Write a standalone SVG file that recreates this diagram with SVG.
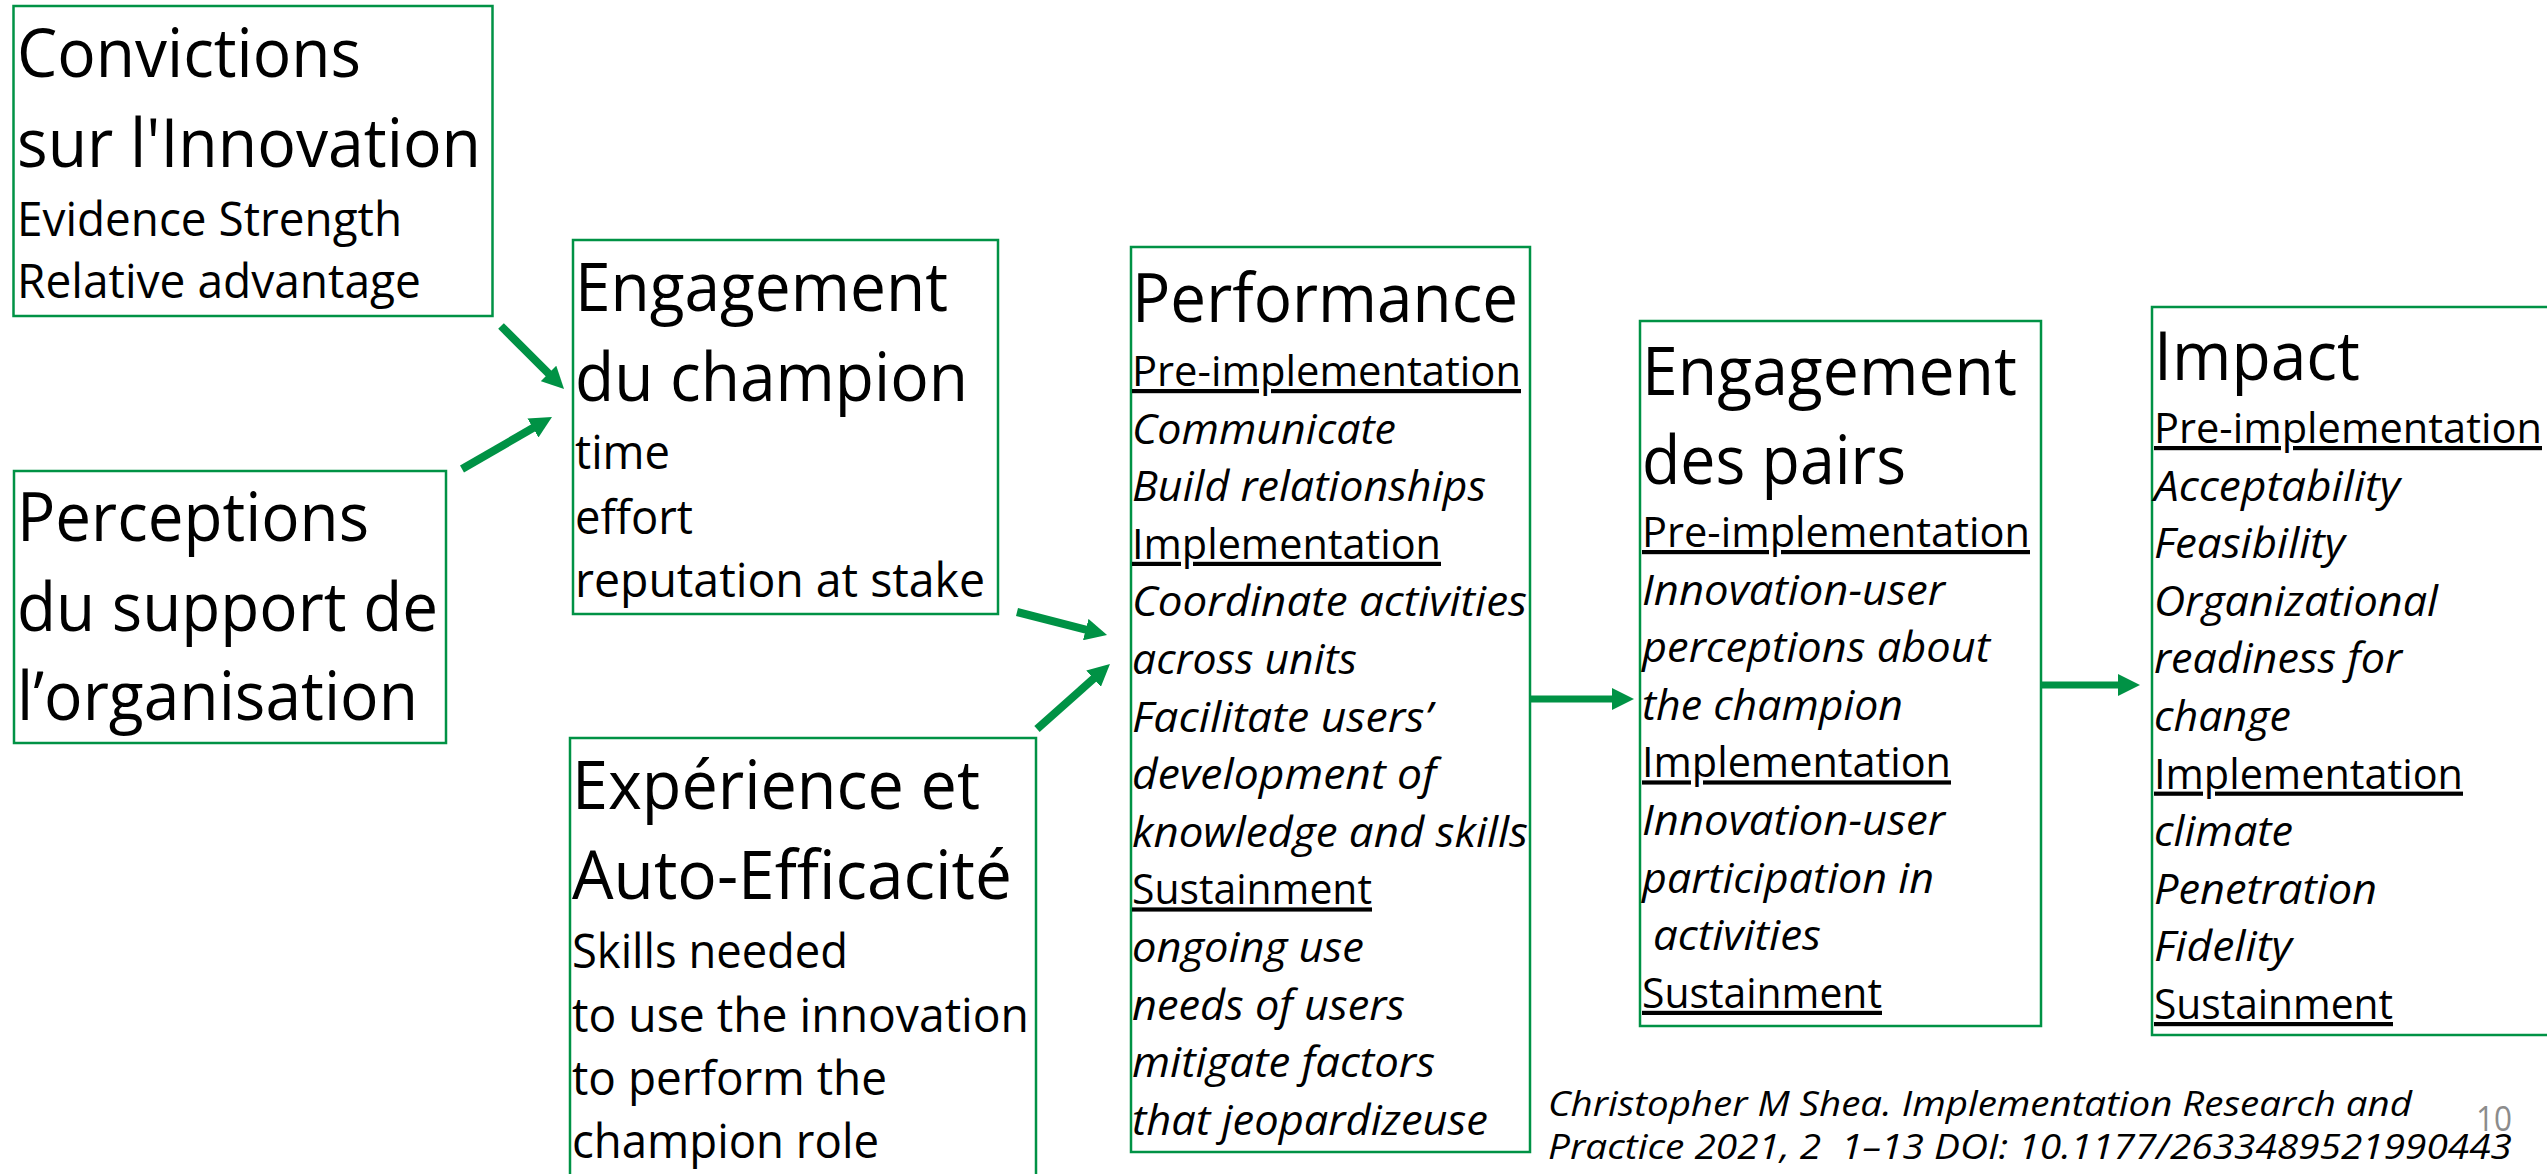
<svg xmlns="http://www.w3.org/2000/svg" width="2547" height="1174" viewBox="0 0 2547 1174">
<style>
.box{fill:#fff;stroke:#009245;stroke-width:2.5}
text{font-family:"Open Sans","Noto Sans","Liberation Sans",sans-serif;fill:#000}
.t{font-size:67px}
.s{font-size:48px}
.b{font-size:42px}
.i{font-style:italic}
.u{text-decoration:underline}
.c{font-size:34px;font-style:italic}
.pg{font-size:34px;fill:#8c8c8c}
.arr{stroke:#009245;stroke-width:8;fill:none;marker-end:url(#ah)}
.arr2{stroke:#009245;stroke-width:7;fill:none;marker-end:url(#ah)}
</style>
<defs>
<marker id="ah" markerUnits="userSpaceOnUse" markerWidth="22" markerHeight="22" viewBox="0 0 22 22" refX="1" refY="11" orient="auto">
<path d="M0,0 L22,11 L0,22 z" fill="#009245"/>
</marker>
</defs>
<rect width="2547" height="1174" fill="#fff"/>

<g id="convictions">
<rect class="box" x="13.5" y="6" width="479" height="310"/>
<text class="t" x="17" y="77" textLength="344" lengthAdjust="spacingAndGlyphs">Convictions</text>
<text class="t" x="17" y="167" textLength="464" lengthAdjust="spacingAndGlyphs">sur l'Innovation</text>
<text class="s" x="17" y="236" textLength="385" lengthAdjust="spacingAndGlyphs">Evidence Strength</text>
<text class="s" x="17" y="298" textLength="404" lengthAdjust="spacingAndGlyphs">Relative advantage</text>
</g>

<g id="perceptions">
<rect class="box" x="14" y="471" width="432" height="272"/>
<text class="t" x="17" y="541" textLength="352" lengthAdjust="spacingAndGlyphs">Perceptions</text>
<text class="t" x="17" y="631" textLength="421" lengthAdjust="spacingAndGlyphs">du support de</text>
<text class="t" x="17" y="720" textLength="401" lengthAdjust="spacingAndGlyphs">l’organisation</text>
</g>

<g id="engagement-champion">
<rect class="box" x="573" y="240" width="425" height="374"/>
<text class="t" x="575" y="311" textLength="373" lengthAdjust="spacingAndGlyphs">Engagement</text>
<text class="t" x="575" y="401" textLength="393" lengthAdjust="spacingAndGlyphs">du champion</text>
<text class="s" x="575" y="469" textLength="95" lengthAdjust="spacingAndGlyphs">time</text>
<text class="s" x="575" y="534" textLength="118" lengthAdjust="spacingAndGlyphs">effort</text>
<text class="s" x="575" y="597" textLength="410" lengthAdjust="spacingAndGlyphs">reputation at stake</text>
</g>

<g id="experience">
<rect class="box" x="570" y="738" width="466" height="460"/>
<text class="t" x="572" y="809" textLength="408" lengthAdjust="spacingAndGlyphs">Expérience et</text>
<text class="t" x="572" y="899" textLength="440" lengthAdjust="spacingAndGlyphs">Auto-Efficacité</text>
<text class="s" x="572" y="968" textLength="276" lengthAdjust="spacingAndGlyphs">Skills needed</text>
<text class="s" x="572" y="1032" textLength="457" lengthAdjust="spacingAndGlyphs">to use the innovation</text>
<text class="s" x="572" y="1095" textLength="315" lengthAdjust="spacingAndGlyphs">to perform the</text>
<text class="s" x="572" y="1158" textLength="307" lengthAdjust="spacingAndGlyphs">champion role</text>
</g>

<g id="performance">
<rect class="box" x="1131" y="247" width="399" height="905"/>
<text class="t" x="1132" y="322" textLength="386" lengthAdjust="spacingAndGlyphs">Performance</text>
<text class="b u" x="1132" y="386" textLength="389" lengthAdjust="spacingAndGlyphs">Pre-implementation</text>
<text class="b i" x="1132" y="443.6" textLength="264" lengthAdjust="spacingAndGlyphs">Communicate</text>
<text class="b i" x="1132" y="501.2" textLength="354" lengthAdjust="spacingAndGlyphs">Build relationships</text>
<text class="b u" x="1132" y="558.8" textLength="309" lengthAdjust="spacingAndGlyphs">Implementation</text>
<text class="b i" x="1132" y="616.4" textLength="395" lengthAdjust="spacingAndGlyphs">Coordinate activities</text>
<text class="b i" x="1132" y="674" textLength="225" lengthAdjust="spacingAndGlyphs">across units</text>
<text class="b i" x="1132" y="731.6" textLength="300" lengthAdjust="spacingAndGlyphs">Facilitate users’</text>
<text class="b i" x="1132" y="789.2" textLength="304" lengthAdjust="spacingAndGlyphs">development of</text>
<text class="b i" x="1132" y="846.8" textLength="396" lengthAdjust="spacingAndGlyphs">knowledge and skills</text>
<text class="b u" x="1132" y="904.4" textLength="240" lengthAdjust="spacingAndGlyphs">Sustainment</text>
<text class="b i" x="1132" y="962" textLength="232" lengthAdjust="spacingAndGlyphs">ongoing use</text>
<text class="b i" x="1132" y="1019.6" textLength="273" lengthAdjust="spacingAndGlyphs">needs of users</text>
<text class="b i" x="1132" y="1077.2" textLength="303" lengthAdjust="spacingAndGlyphs">mitigate factors</text>
<text class="b i" x="1132" y="1134.8" textLength="356" lengthAdjust="spacingAndGlyphs">that jeopardizeuse</text>
</g>

<g id="engagement-pairs">
<rect class="box" x="1640" y="321" width="401" height="705"/>
<text class="t" x="1642" y="395" textLength="375" lengthAdjust="spacingAndGlyphs">Engagement</text>
<text class="t" x="1642" y="484" textLength="264" lengthAdjust="spacingAndGlyphs">des pairs</text>
<text class="b u" x="1642" y="547" textLength="388" lengthAdjust="spacingAndGlyphs">Pre-implementation</text>
<text class="b i" x="1642" y="604.6" textLength="303" lengthAdjust="spacingAndGlyphs">Innovation-user</text>
<text class="b i" x="1642" y="662.2" textLength="348" lengthAdjust="spacingAndGlyphs">perceptions about</text>
<text class="b i" x="1642" y="719.8" textLength="261" lengthAdjust="spacingAndGlyphs">the champion</text>
<text class="b u" x="1642" y="777.4" textLength="309" lengthAdjust="spacingAndGlyphs">Implementation</text>
<text class="b i" x="1642" y="835" textLength="303" lengthAdjust="spacingAndGlyphs">Innovation-user</text>
<text class="b i" x="1642" y="892.6" textLength="292" lengthAdjust="spacingAndGlyphs">participation in</text>
<text class="b i" x="1653" y="950.2" textLength="168" lengthAdjust="spacingAndGlyphs">activities</text>
<text class="b u" x="1642" y="1007.8" textLength="240" lengthAdjust="spacingAndGlyphs">Sustainment</text>
</g>

<g id="impact">
<rect class="box" x="2152" y="307" width="420" height="728"/>
<text class="t" x="2154" y="380" textLength="206" lengthAdjust="spacingAndGlyphs">Impact</text>
<text class="b u" x="2154" y="443" textLength="388" lengthAdjust="spacingAndGlyphs">Pre-implementation</text>
<text class="b i" x="2154" y="500.6" textLength="246" lengthAdjust="spacingAndGlyphs">Acceptability</text>
<text class="b i" x="2154" y="558.2" textLength="191" lengthAdjust="spacingAndGlyphs">Feasibility</text>
<text class="b i" x="2154" y="615.8" textLength="284" lengthAdjust="spacingAndGlyphs">Organizational</text>
<text class="b i" x="2154" y="673.4" textLength="248" lengthAdjust="spacingAndGlyphs">readiness for</text>
<text class="b i" x="2154" y="731" textLength="137" lengthAdjust="spacingAndGlyphs">change</text>
<text class="b u" x="2154" y="788.6" textLength="309" lengthAdjust="spacingAndGlyphs">Implementation</text>
<text class="b i" x="2154" y="846.2" textLength="139" lengthAdjust="spacingAndGlyphs">climate</text>
<text class="b i" x="2154" y="903.8" textLength="223" lengthAdjust="spacingAndGlyphs">Penetration</text>
<text class="b i" x="2154" y="961.4" textLength="138" lengthAdjust="spacingAndGlyphs">Fidelity</text>
<text class="b u" x="2154" y="1019" textLength="239" lengthAdjust="spacingAndGlyphs">Sustainment</text>
</g>

<g id="connectors">
<line class="arr" x1="501" y1="326" x2="549.2" y2="374.2"/>
<line class="arr" x1="462" y1="469" x2="533.8" y2="427.5"/>
<line class="arr" x1="1017" y1="612" x2="1086.7" y2="629.8"/>
<line class="arr" x1="1037" y1="729" x2="1094.3" y2="678"/>
<line class="arr2" x1="1531" y1="699" x2="1613" y2="699"/>
<line class="arr2" x1="2041" y1="685" x2="2119" y2="685"/>
</g>

<g id="citation">
<text class="c" x="1548" y="1116" textLength="864" lengthAdjust="spacingAndGlyphs">Christopher M Shea. Implementation Research and</text>
<text class="c" x="1548" y="1159" textLength="964" lengthAdjust="spacingAndGlyphs" xml:space="preserve">Practice 2021, 2  1–13 DOI: 10.1177/2633489521990443</text>
<text class="pg" x="2476" y="1131" textLength="36" lengthAdjust="spacingAndGlyphs">10</text>
</g>
</svg>
